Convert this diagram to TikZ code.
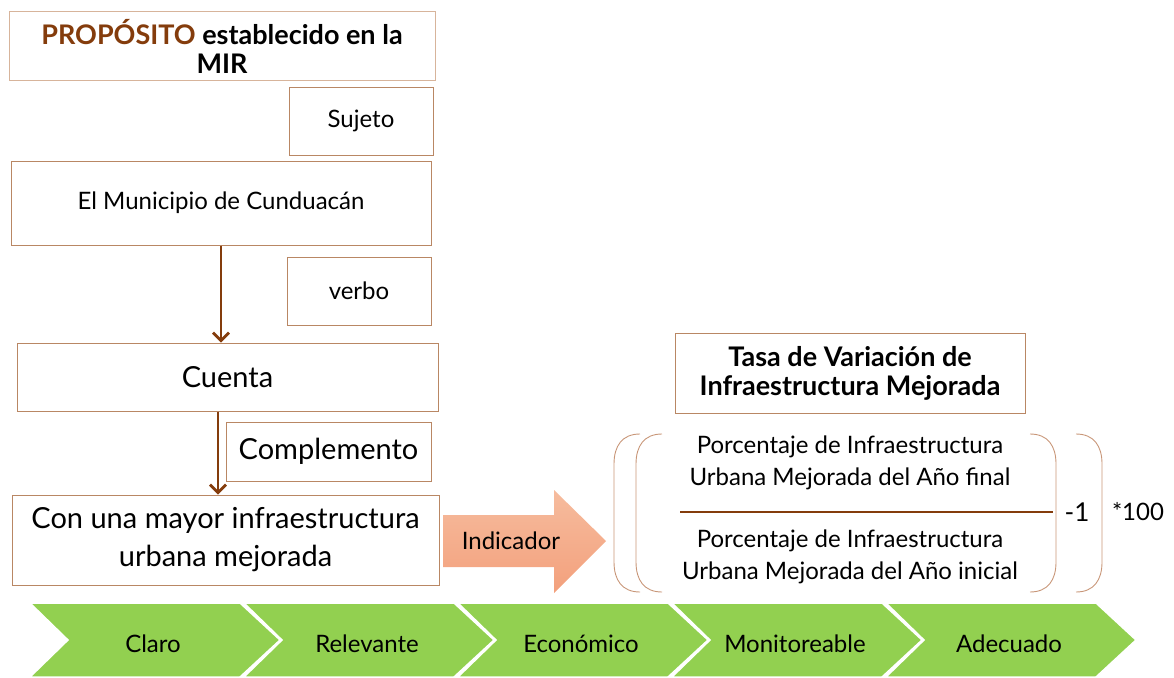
\documentclass[tikz,border=0pt]{standalone}
\usepackage{fontspec}
\setmainfont{Lato}
\usetikzlibrary{arrows.meta}

\definecolor{marron}{RGB}{132,60,12}
\definecolor{borde}{RGB}{185,135,100}
\definecolor{bordeclaro}{RGB}{215,180,155}
\definecolor{parentesis}{RGB}{200,150,120}
\definecolor{verde}{RGB}{146,208,80}
\definecolor{salmonarriba}{RGB}{246,188,158}
\definecolor{salmonabajo}{RGB}{243,160,124}

\newcommand{\letrauno}{\fontsize{24}{32}\selectfont}
\newcommand{\letrados}{\fontsize{29}{38}\selectfont}
\newcommand{\letratit}{\fontsize{27}{29}\selectfont\bfseries}

\begin{document}
\begin{tikzpicture}[x=1pt,y=-1pt]

	\tikzstyle box lines=[draw=borde, line width=1pt, inner sep=0pt, align=center, font=\letrauno];
	\tikzstyle arrow lines=[draw=marron, line width=2.8pt, -{Straight Barb[length=8pt,width=16pt]}];
	\tikzstyle paren lines=[draw=parentesis, line width=0.9pt];
	\tikzstyle chevron shapes=[fill=verde, draw=white, line width=1.5pt];

	\useasboundingbox (0,0) rectangle (1174,677);

	% columna izquierda
	\node[box lines, draw=bordeclaro, font=\letratit, minimum width=426, minimum height=68] (titulo) at (222,46)
		{\textcolor{marron}{PROPÓSITO} establecido en la\\MIR};
	\node[box lines, minimum width=144, minimum height=68] (sujeto) at (361,121) {Sujeto};
	\node[box lines, minimum width=420, minimum height=84] (municipio) at (221,203) {El Municipio de Cunduacán};
	\node[box lines, minimum width=144, minimum height=68] (verbo) at (359,291) {verbo};
	\node[box lines, font=\letrados, minimum width=421, minimum height=68] (cuenta) at (227.5,377) {Cuenta};
	\node[box lines, font=\letrados, minimum width=205, minimum height=59] (complemento) at (328.5,451.5) {Complemento};
	\node[box lines, font=\letrados, minimum width=427, minimum height=90] (mayor) at (225.5,540)
		{Con una mayor infraestructura\\urbana mejorada};

	\draw[arrow lines] (municipio.south) -- (municipio.south |- cuenta.north);
	\draw[arrow lines] ([xshift=-9.5pt]cuenta.south) -- ([xshift=-9.5pt]cuenta.south |- mayor.north);

	% flecha indicador
	\shade[top color=salmonarriba, bottom color=salmonabajo]
		(443,515) -- (554,515) -- (554,490) -- (606,541) -- (554,593) -- (554,567) -- (443,567) -- cycle;
	\node[font=\letrauno] (indicador) at (511,541) {Indicador};

	% formula
	\node[box lines, font=\letratit, minimum width=350, minimum height=80] (tasa) at (850,373)
		{Tasa de Variación de\\Infraestructura Mejorada};
	\node[align=center, font=\letrauno] (numerador) at (850,463)
		{Porcentaje de Infraestructura\\Urbana Mejorada del Año final};
	\node[align=center, font=\letrauno] (denominador) at (850,557)
		{Porcentaje de Infraestructura\\Urbana Mejorada del Año inicial};
	\draw[draw=marron, line width=1.8pt] (680,512) -- (1053,512);
	\foreach \x/\d in {614/1,636/1,1056/-1,1102/-1}
		\draw[paren lines] ({\x+\d*26},434) .. controls ({\x+\d*8},434) and (\x,446) .. (\x,464)
			-- (\x,562) .. controls (\x,580) and ({\x+\d*8},592) .. ({\x+\d*26},592);
	\node[font=\fontsize{26}{30}\selectfont] (menosuno) at (1077,512) {-1};
	\node[font=\letrauno] (porcien) at (1138,512) {*100};

	% criterios
	\foreach \s/\etiqueta in {30/Claro,244/Relevante,458/Económico,672/Monitoreable,886/Adecuado}{
		\draw[chevron shapes] (\s,603) -- ({\s+210},603) -- ({\s+250},640) -- ({\s+210},677)
			-- (\s,677) -- ({\s+38},640) -- cycle;
		\node[font=\letrauno] (c\s) at ({\s+123},644) {\etiqueta};
	}

\end{tikzpicture}
\end{document}
